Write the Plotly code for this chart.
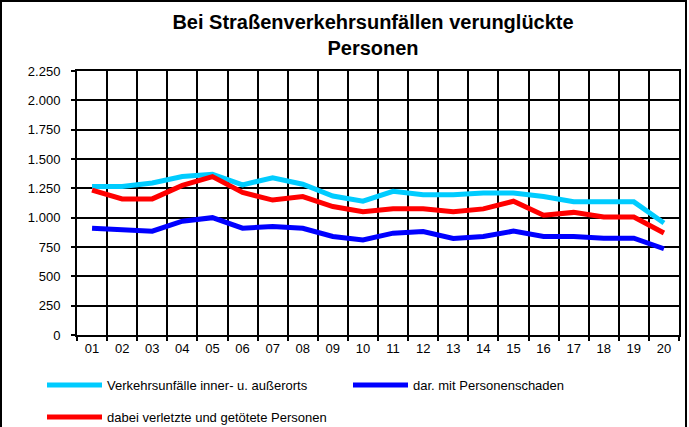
import plotly.graph_objects as go

years = ["01", "02", "03", "04", "05", "06", "07", "08", "09", "10",
         "11", "12", "13", "14", "15", "16", "17", "18", "19", "20"]

unfaelle = [1265, 1265, 1295, 1350, 1370, 1280, 1340, 1285, 1185, 1140,
            1225, 1195, 1195, 1210, 1210, 1180, 1135, 1135, 1135, 955]
personenschaden = [910, 900, 885, 970, 1000, 910, 925, 910, 840, 810,
                   868, 882, 822, 840, 885, 840, 840, 825, 825, 735]
verunglueckte = [1235, 1160, 1160, 1275, 1350, 1215, 1150, 1180, 1095, 1050,
                 1075, 1075, 1050, 1075, 1140, 1020, 1045, 1005, 1005, 870]

names = ["Verkehrsunfälle inner- u. außerorts",
         "dar. mit Personenschaden",
         "dabei verletzte und getötete Personen"]
colors = ["#00CCFF", "#0000FF", "#FF0000"]

W, H = 689, 427
L, R, T, B = 77, 10, 71, 92
pw, ph = W - L - R, H - T - B

def px_x(p):
    return (p - L) / pw

def px_y(p):
    return (H - B - p) / ph

fig = go.Figure()
fig.add_trace(go.Scatter(x=years, y=unfaelle, name=names[0], mode="lines",
                         line=dict(color=colors[0], width=5), legend="legend"))
fig.add_trace(go.Scatter(x=years, y=personenschaden, name=names[1], mode="lines",
                         line=dict(color=colors[1], width=5), legend="legend2"))
fig.add_trace(go.Scatter(x=years, y=verunglueckte, name=names[2], mode="lines",
                         line=dict(color=colors[2], width=5), legend="legend3"))

font = "Liberation Sans, Arial, sans-serif"

def leg(xp, yp):
    return dict(orientation="h", x=px_x(xp), xanchor="left",
                y=px_y(yp), yanchor="middle",
                font=dict(family=font, size=13), bgcolor="rgba(0,0,0,0)",
                itemwidth=55)

fig.update_layout(
    width=W, height=H,
    margin=dict(l=L, r=R, t=T, b=B, autoexpand=False),
    paper_bgcolor="white", plot_bgcolor="white",
    separators=",.",
    font=dict(family=font, size=13, color="black"),
    title=dict(text="<b>Bei Straßenverkehrsunfällen verunglückte<br>Personen</b>",
               x=373 / W, xanchor="center", xref="container",
               y=1 - 29 / H, yanchor="top", yref="container",
               font=dict(family=font, size=20, color="black")),
    showlegend=True,
    legend=leg(42, 385),
    legend2=leg(348, 385),
    legend3=leg(42, 417),
    xaxis=dict(type="category", categoryorder="array", categoryarray=years,
               range=[-0.5, len(years) - 0.5], tickson="boundaries",
               showgrid=True, gridcolor="black", gridwidth=1.5,
               ticks="outside", ticklen=4, tickcolor="black", tickwidth=1.5,
               showline=True, linecolor="black", linewidth=2, mirror=True,
               tickfont=dict(family=font, size=13), fixedrange=True),
    yaxis=dict(range=[0, 2250], dtick=250, tick0=0, separatethousands=True,
               showgrid=True, gridcolor="black", gridwidth=1.5,
               ticks="outside", ticklen=4, tickcolor="black", tickwidth=1.5,
               showline=True, linecolor="black", linewidth=2, mirror=True,
               zeroline=False, ticklabelstandoff=8,
               tickfont=dict(family=font, size=13), fixedrange=True),
    shapes=[dict(type="rect", xref="paper", yref="paper",
                 x0=px_x(1), x1=px_x(686), y0=px_y(430), y1=px_y(1),
                 line=dict(color="black", width=2), fillcolor="rgba(0,0,0,0)",
                 layer="below")],
)

fig.write_html("out.html", config={"displayModeBar": False},
               post_script="document.body.style.margin='0';document.body.style.padding='0';"
                           "document.body.style.overflow='hidden';")
